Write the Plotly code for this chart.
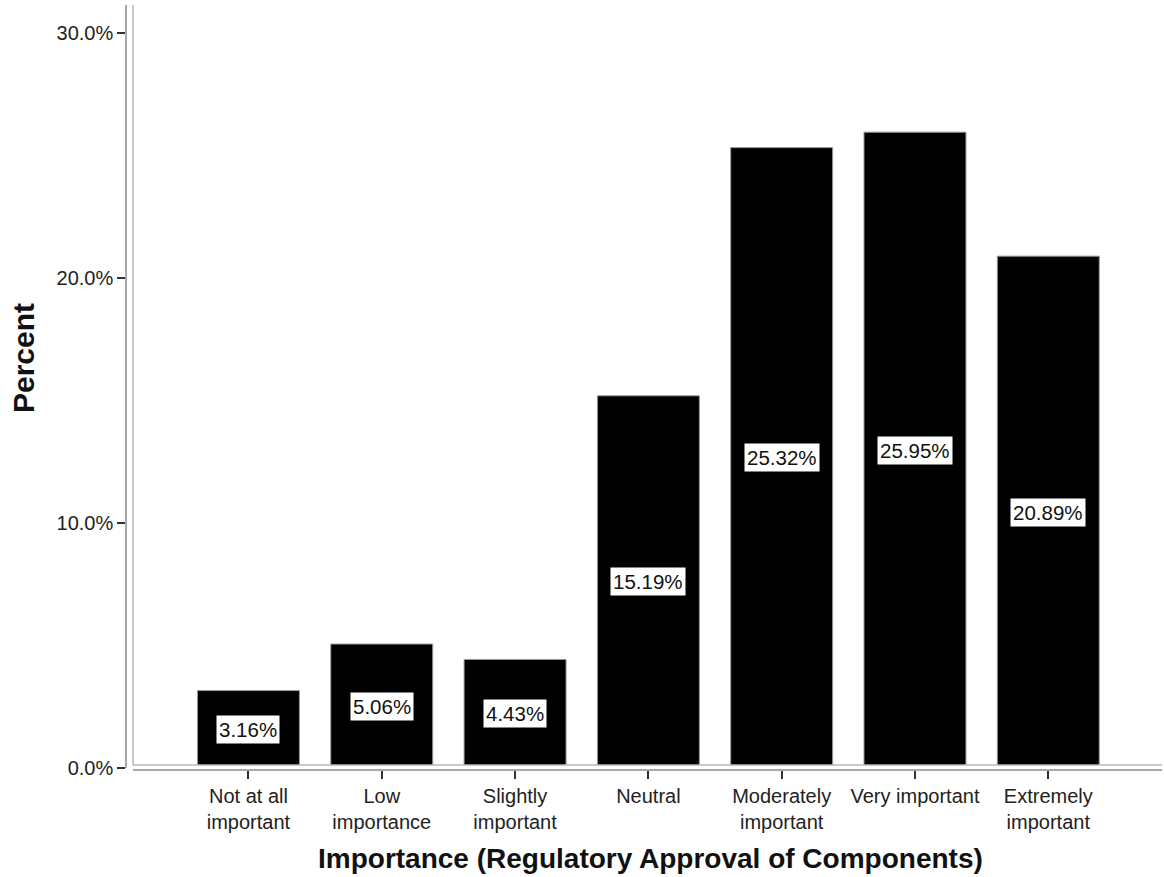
import plotly.graph_objects as go

categories = ["Not at all<br>important", "Low<br>importance", "Slightly<br>important",
              "Neutral", "Moderately<br>important", "Very important", "Extremely<br>important"]
percents = [3.16, 5.06, 4.43, 15.19, 25.32, 25.95, 20.89]
y_ticks = [0, 10, 20, 30]

W, H = 1164, 877
ML, MR, MT, MB = 126, 2, 5, 107
PW, PH = W - ML - MR, H - MT - MB

FONT = "Liberation Sans, Arial"

fig = go.Figure()
fig.add_trace(go.Bar(
    x=categories, y=percents,
    marker=dict(color="black", line=dict(color="#9a9a9a", width=1)),
    hoverinfo="skip",
))

for c, v in zip(categories, percents):
    fig.add_annotation(x=c, y=v / 2, xref="x", yref="y", text=f"{v:.2f}%",
                       showarrow=False, bgcolor="white", borderpad=2,
                       font=dict(family=FONT, size=20.5, color="#111"))

font_tick = dict(family=FONT, size=20, color="#222")

fig.update_layout(
    width=W, height=H,
    margin=dict(l=ML, r=MR, t=MT, b=MB),
    plot_bgcolor="white", paper_bgcolor="white",
    showlegend=False,
    bargap=0.235,
    xaxis=dict(
        domain=[7 / PW, 1], anchor="free", position=0,
        range=[-0.866, 6.853], type="category",
        showline=True, linecolor="#a8a8a8", linewidth=1.5,
        ticks="outside", ticklen=8, tickwidth=2, tickcolor="#333",
        tickfont=font_tick, showgrid=False, zeroline=False,
    ),
    yaxis=dict(
        domain=[2 / PH, 1], anchor="free", position=0,
        range=[0, 31.14],
        tickvals=y_ticks, ticktext=[f"{t:.1f}%" for t in y_ticks],
        showline=True, linecolor="#a8a8a8", linewidth=1.5,
        ticks="outside", ticklen=8, tickwidth=2, tickcolor="#333",
        tickfont=font_tick, showgrid=False, zeroline=False,
    ),
)

# gap between the inner and outer lines of the axis frame
fig.add_shape(type="rect", xref="paper", yref="paper", layer="above",
              x0=7 / PW, x1=1, y0=0.9 / PH, y1=5 / PH,
              line=dict(width=0), fillcolor="white")
# inner lines of the double axis frame
fig.add_shape(type="line", xref="paper", yref="paper", layer="above",
              x0=7 / PW, x1=7 / PW, y0=5 / PH, y1=1,
              line=dict(color="#b8b8b8", width=1.5))
fig.add_shape(type="line", xref="paper", yref="paper", layer="above",
              x0=7 / PW, x1=1, y0=5 / PH, y1=5 / PH,
              line=dict(color="#b8b8b8", width=1.5))

# axis titles
fig.add_annotation(text="<b>Importance (Regulatory Approval of Components)</b>",
                   xref="paper", yref="paper", x=(650 - ML) / PW, y=(770 - 858) / PH,
                   xanchor="center", yanchor="middle", showarrow=False,
                   font=dict(family=FONT, size=28, color="#111"))
fig.add_annotation(text="<b>Percent</b>", textangle=-90,
                   xref="paper", yref="paper", x=(23 - ML) / PW, y=(770 - 358) / PH,
                   xanchor="center", yanchor="middle", showarrow=False,
                   font=dict(family=FONT, size=30, color="#111"))

fig.write_html("out.html", config={"displayModeBar": False},
               post_script="document.body.style.margin='0';document.body.style.overflow='hidden';")
